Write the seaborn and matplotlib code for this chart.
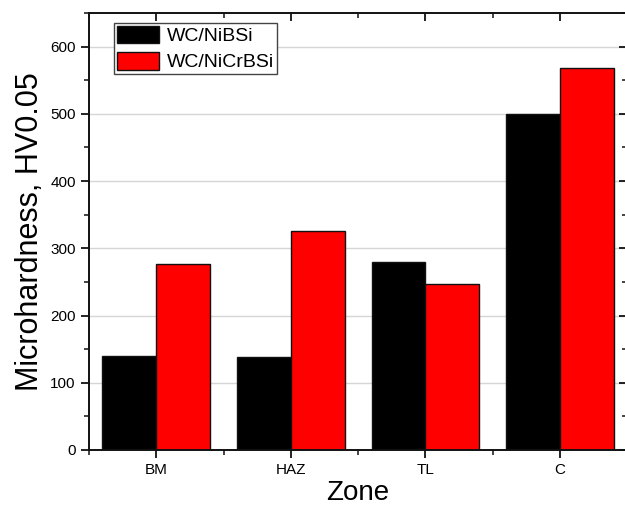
import numpy as np
import pandas as pd
import matplotlib
matplotlib.use("Agg")
import matplotlib.pyplot as plt
from matplotlib.ticker import MultipleLocator
import seaborn as sns

# values
zones = ["BM", "HAZ", "TL", "C"]
wc_nibsi = [140, 139, 280, 500]
wc_nicrbsi = [276, 326, 247, 568]
series = ["WC/NiBSi", "WC/NiCrBSi"]

df = pd.DataFrame({
    "Zone": zones * 2,
    "HV": wc_nibsi + wc_nicrbsi,
    "Coating": [series[0]] * 4 + [series[1]] * 4,
})

sns.set_style("ticks")
plt.rcParams["font.family"] = ["Liberation Sans", "DejaVu Sans"]
plt.rcParams["text.color"] = "black"
plt.rcParams["axes.labelcolor"] = "black"
plt.rcParams["xtick.color"] = "black"
plt.rcParams["ytick.color"] = "black"

fig = plt.figure(figsize=(6.25, 5.09), dpi=100)
ax = fig.add_axes([0.1424, 0.116, 0.861, 0.8585])

ax.yaxis.grid(True, color="#d6d6d6", linewidth=1.0)
ax.set_axisbelow(True)

sns.barplot(data=df, x="Zone", y="HV", hue="Coating", order=zones,
            hue_order=series, palette=["#000000", "#ff0000"], saturation=1,
            edgecolor="#111111", linewidth=1.0, width=0.8, ax=ax)

ax.set_xlim(-0.5, 3.5)
ax.set_ylim(0, 650)
ax.yaxis.set_major_locator(MultipleLocator(100))
ax.yaxis.set_minor_locator(MultipleLocator(50))
ax.xaxis.set_minor_locator(MultipleLocator(0.5))
ax.set_xticks(range(len(zones)))
ax.set_xticklabels(zones)

for s in ax.spines.values():
    s.set_visible(True)
    s.set_color("#111111")
    s.set_linewidth(1.4)

ax.tick_params(axis="both", which="major", length=6, width=1.3,
               labelsize=11, color="#111111", labelcolor="black")
ax.tick_params(axis="both", which="minor", length=3.5, width=1.1,
               color="#111111")
ax.tick_params(axis="x", which="both", top=True, direction="out")
ax.tick_params(axis="y", which="both", right=True, direction="out")
# mirrored ticks on top/right point into the plot
for t in ax.xaxis.get_major_ticks() + ax.xaxis.get_minor_ticks():
    t.tick2line.set_marker(3)
for t in ax.yaxis.get_major_ticks() + ax.yaxis.get_minor_ticks():
    t.tick2line.set_marker(0)

ax.set_xlabel("Zone", fontsize=20, labelpad=2, color="black")
ax.set_ylabel("Microhardness, HV0.05", fontsize=22, labelpad=4, color="black")

leg = ax.legend(loc="upper left", bbox_to_anchor=(0.046, 0.977), fontsize=14,
                frameon=True, fancybox=False, edgecolor="#444444", framealpha=1,
                handlelength=2.2, handleheight=1.0, handletextpad=0.4,
                borderpad=0.15, labelspacing=0.35, borderaxespad=0)
for txt in leg.get_texts():
    txt.set_color("black")

fig.savefig("out.png", dpi=100)
